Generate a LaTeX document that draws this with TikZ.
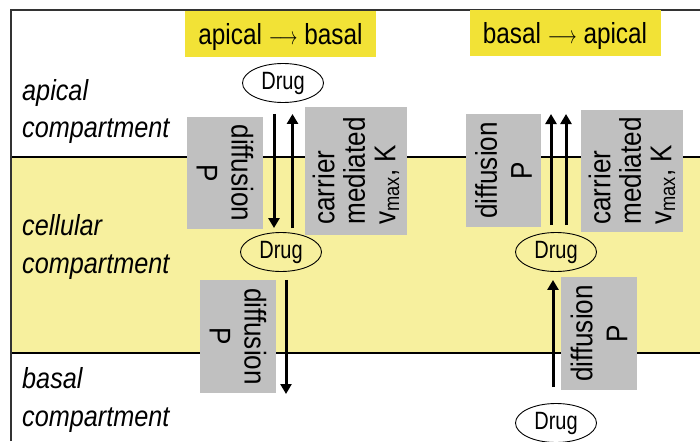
\documentclass[tikz,border=0pt]{standalone}
\usepackage{fontspec}
\setmainfont{Liberation Sans}
\newfontfamily\nsans[FakeStretch=0.87]{Liberation Sans}
\newfontfamily\dsans[FakeStretch=0.8]{Liberation Sans}
\newfontfamily\tsans[FakeStretch=0.84]{Liberation Sans}
\usetikzlibrary{arrows.meta,calc,shapes.geometric}
\definecolor{bandyellow}{HTML}{F7F09E}
\definecolor{titleyellow}{HTML}{F2E236}
\definecolor{boxgray}{HTML}{C0C0C0}
\definecolor{framegray}{HTML}{333333}
\tikzset{
  complab/.style={anchor=base west, inner sep=0, font=\nsans\itshape\fontsize{29}{31}\selectfont},
  titlebox/.style={fill=titleyellow, inner sep=0, minimum width=191pt, text height=34pt, text depth=12pt, font=\tsans\fontsize{29}{31}\selectfont},
  graybox/.style={fill=boxgray, inner sep=0, align=center, font=\nsans\fontsize{30}{30.5}\selectfont},
  carrierbox/.style={fill=boxgray, inner sep=0, align=left, font=\nsans\fontsize{30}{30.5}\selectfont},
  drug/.style={ellipse, draw=black, line width=0.9pt, inner sep=0, minimum width=81pt, minimum height=39pt, font=\dsans\fontsize{25}{27}\selectfont},
  arr/.style={line width=3pt, -{Triangle[length=10pt,width=11pt]}}
}
\begin{document}
\begin{tikzpicture}[x=1pt,y=-1pt]
\useasboundingbox (0,0) rectangle (700,441);
% cellular band
\fill[bandyellow] (11,157) rectangle (700,353);
\draw[line width=1.5pt, black] (11,157) -- (700,157);
\draw[line width=1.5pt, black] (11,353) -- (700,353);
\draw[line width=2pt, framegray] (11,441) -- (11,10) -- (700,10);
% titles
\node[titlebox] (t1) at (280.5,34) {apical \scalebox{0.72}[1]{$\longrightarrow$} basal};
\node[titlebox] (t2) at (565,33) {basal \scalebox{0.72}[1]{$\longrightarrow$} apical};
% compartment labels
\node[complab] (l1a) at (22,100) {apical};
\node[complab] (l1b) at (22,137) {compartment};
\node[complab] (l2a) at (22,235) {cellular};
\node[complab] (l2b) at (22,273) {compartment};
\node[complab] (l3a) at (22,388) {basal};
\node[complab] (l3b) at (22,426) {compartment};
% gray boxes, left
\node[graybox, rotate=-90, minimum width=112pt, minimum height=76pt] (gA1) at (225,173) {diffusion\\[4.5pt]P};
\node[carrierbox, rotate=90, minimum width=128pt, minimum height=102pt] (gA2) at (356,171) {carrier\\mediated\\v\textsubscript{max}, K};
\node[graybox, rotate=-90, minimum width=113pt, minimum height=76pt] (gA3) at (238,336.5) {diffusion\\[4.5pt]P};
% gray boxes, right
\node[graybox, rotate=90, minimum width=113pt, minimum height=75pt] (gB1) at (503.5,170.5) {diffusion\\[4.5pt]P};
\node[carrierbox, rotate=90, minimum width=122pt, minimum height=102pt] (gB2) at (632,171) {carrier\\mediated\\v\textsubscript{max}, K};
\node[graybox, rotate=90, minimum width=113pt, minimum height=76pt] (gB3) at (599,333.5) {diffusion\\[4.5pt]P};
% drugs
\node[drug, fill=white] (dA) at (283,83) {Drug};
\node[drug] (dB) at (281,252) {Drug};
\node[drug] (dC) at (556,252) {Drug};
\node[drug, fill=white] (dD) at (556,423) {Drug};
% free ends
\coordinate (bEnd) at (286,394);
\coordinate (rTip1) at (551,114);
\coordinate (rTip2) at (566,114);
% arrows left
\draw[arr] ($(dA.south)+(-9,11)$) -- ($(dB.north)+(-7,-4)$);
\draw[arr] ($(dB.north)+(11.5,-4)$) -- ($(dA.south)+(9.5,11)$);
\draw[arr] ($(dB.south)+(5,8)$) -- (bEnd);
% arrows right
\draw[arr] ($(dC.north)+(-5,-7)$) -- (rTip1);
\draw[arr] ($(dC.north)+(10,-7)$) -- (rTip2);
\draw[arr] ($(dD.north)+(-3,-16)$) -- ($(dC.south)+(-3,8)$);
\end{tikzpicture}
\end{document}
